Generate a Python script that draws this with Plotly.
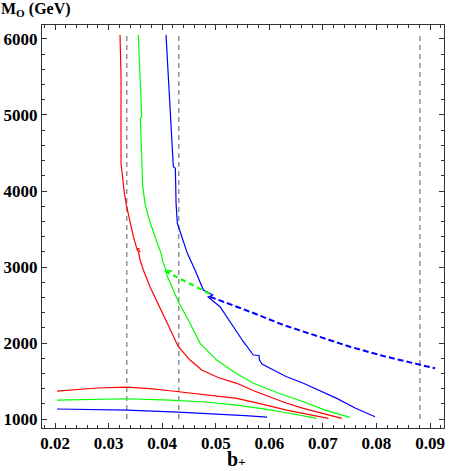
import plotly.graph_objects as go

# upper branches (b_+, M_O in GeV)
red_up_b = [0.03213, 0.03225, 0.03232, 0.03232, 0.03256, 0.03294, 0.03338, 0.03387, 0.03462,
            0.03525, 0.0358, 0.0353, 0.0354, 0.0359, 0.0356, 0.03587, 0.03648, 0.03773, 0.03960,
            0.04147, 0.04302, 0.04520, 0.04738, 0.05043, 0.05392, 0.05696, 0.06013, 0.06312,
            0.06635, 0.06984, 0.07352]
red_up_m = [6053, 5530, 5520, 4364, 4188, 3970, 3793, 3618, 3399,
            3246, 3240, 3232, 3215, 3208, 3195, 3092, 2961, 2741, 2461,
            2171, 1951, 1776, 1645, 1546, 1470, 1375, 1293, 1211,
            1141, 1072, 1009]

green_up_b = [0.03555, 0.03618, 0.03592, 0.03637, 0.03680, 0.03761, 0.03867, 0.03979, 0.04022,
              0.04072, 0.04184, 0.04081, 0.04085, 0.04302, 0.04488, 0.04707, 0.05018, 0.05341,
              0.05702, 0.06163, 0.06635, 0.07040, 0.07506]
green_up_m = [6053, 4978, 4957, 4057, 3838, 3618, 3399, 3180, 3049,
              2961, 2947, 2921, 2895, 2543, 2303, 1996, 1776, 1618,
              1470, 1342, 1228, 1118, 1022]

blue_up_b = [0.04072, 0.04122, 0.04208, 0.04246, 0.04259, 0.04283, 0.04347, 0.04470, 0.04613,
             0.04768, 0.04949, 0.04856, 0.0508, 0.05328, 0.05515, 0.05702, 0.05808, 0.05817,
             0.05864, 0.06013, 0.06312, 0.06635, 0.06947, 0.07259, 0.07600, 0.07973]
blue_up_m = [6053, 5372, 4320, 4299, 3838, 3575, 3443, 3180, 2961,
             2697, 2632, 2605, 2478, 2214, 2017, 1842, 1836, 1776,
             1724, 1667, 1559, 1470, 1368, 1272, 1145, 1030]

# lower branches
red_lo_b = [0.02037, 0.02784, 0.03344, 0.03773, 0.04147, 0.04800, 0.05392, 0.05864,
            0.06325, 0.06723, 0.07102]
red_lo_m = [1368, 1408, 1421, 1401, 1372, 1322, 1272, 1197, 1118, 1062, 1009]

green_lo_b = [0.02037, 0.02784, 0.03344, 0.04147, 0.04800, 0.05392, 0.05864, 0.06325,
              0.06611, 0.06885]
green_lo_m = [1250, 1259, 1267, 1250, 1224, 1184, 1138, 1083, 1046, 1009]

blue_lo_b = [0.02037, 0.03344, 0.04296, 0.05080, 0.05547, 0.05957]
blue_lo_m = [1132, 1118, 1092, 1066, 1046, 1026]

# hatched (dashed) segments
green_dash_b = [0.04053, 0.04931]
green_dash_m = [2947, 2632]
blue_dash_b = [0.04893, 0.05640, 0.06262, 0.06885, 0.07506, 0.08128, 0.08813, 0.09093]
blue_dash_m = [2609, 2412, 2237, 2092, 1951, 1829, 1711, 1667]

# vertical reference lines
vline_b = [0.0334, 0.0431, 0.0881]
vline_m = [1000, 6053]

RED, GREEN, BLUE = "#ff0000", "#00ff00", "#0000ff"
SERIF = "Liberation Serif"

fig = go.Figure()

for b in vline_b:
    fig.add_trace(go.Scatter(x=[b, b], y=vline_m, mode="lines",
                             line=dict(color="#777777", width=1.2, dash="5px,4px")))

for xs, ys, c in [(red_up_b, red_up_m, RED), (green_up_b, green_up_m, GREEN),
                  (blue_up_b, blue_up_m, BLUE), (red_lo_b, red_lo_m, RED),
                  (green_lo_b, green_lo_m, GREEN), (blue_lo_b, blue_lo_m, BLUE)]:
    fig.add_trace(go.Scatter(x=xs, y=ys, mode="lines", line=dict(color=c, width=1.2)))

fig.add_trace(go.Scatter(x=green_dash_b, y=green_dash_m, mode="lines",
                         line=dict(color=GREEN, width=2.2, dash="5px,4px")))
fig.add_trace(go.Scatter(x=blue_dash_b, y=blue_dash_m, mode="lines",
                         line=dict(color=BLUE, width=2.0, dash="6px,3px")))

axis_common = dict(
    showgrid=False, zeroline=False, showline=True, linecolor="#333", linewidth=1,
    mirror="ticks", ticks="inside", ticklen=5, tickcolor="#333",
    automargin=False, ticklabeloverflow="allow",
)

fig.update_xaxes(
    range=[0.01757, 0.0926], tickvals=[0.02, 0.03, 0.04, 0.05, 0.06, 0.07, 0.08, 0.09],
    ticktext=["0.02", "0.03", "0.04", "0.05", "0.06", "0.07", "0.08", "0.09"],
    tickfont=dict(family=SERIF, size=17, color="black", weight="bold"),
    minor=dict(dtick=0.002, tick0=0.0, ticks="inside", ticklen=3, tickcolor="#333"),
    **axis_common,
)
fig.update_yaxes(
    range=[882, 6184], tickvals=[1000, 2000, 3000, 4000, 5000, 6000],
    tickfont=dict(family=SERIF, size=17, color="black", weight="bold"),
    minor=dict(dtick=200, tick0=0, ticks="inside", ticklen=3, tickcolor="#333"),
    **axis_common,
)

fig.add_annotation(
    text="M<sub>O</sub> (GeV)", xref="paper", yref="paper", x=-0.1045, y=1.0,
    xanchor="left", yanchor="top", showarrow=False, yshift=26, borderpad=0,
    font=dict(family=SERIF, size=16, color="black", weight="bold"),
)
fig.add_annotation(
    text="b<span style='font-size:13px'>+</span>", xref="paper", yref="paper",
    x=0.4826, y=0.0, xanchor="center", yanchor="bottom", showarrow=False,
    yshift=-43, borderpad=0,
    font=dict(family=SERIF, size=20, color="black", weight="bold"),
)

fig.update_layout(
    width=450, height=471, showlegend=False,
    margin=dict(l=42, r=6, t=25, b=43),
    plot_bgcolor="white", paper_bgcolor="white",
)

fig.write_html("out.html", config={"displayModeBar": False},
               post_script="document.body.style.margin='0px';")
